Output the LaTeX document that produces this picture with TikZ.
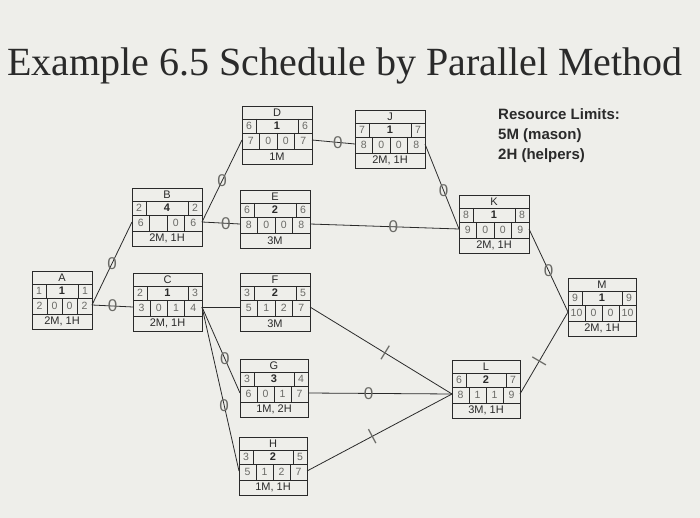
\documentclass[tikz,border=0pt]{standalone}
\usepackage{fontspec}
\setmainfont{Liberation Serif}
\setsansfont{Liberation Sans}
\usetikzlibrary{calc}
\definecolor{paper}{HTML}{EEEEEA}
\definecolor{ink}{HTML}{2A2A2A}
\definecolor{pen}{HTML}{6A6A66}
\tikzset{
  bx/.style={draw=ink,line width=0.9pt},
  tx/.style={font=\sffamily\fontsize{11}{11}\selectfont,text=ink,inner sep=0},
  hw/.style={font=\sffamily\fontsize{10.5}{10.5}\selectfont,text=pen,inner sep=0},
  con/.style={draw=ink,line width=0.8pt},
  mk/.style={font=\sffamily\fontsize{17}{17}\selectfont,text=pen,inner sep=0,fill=none},
}
\newcommand\actbox[9]{%
  \gdef\bX{#2}\gdef\bY{#3}\gdef\bW{#4}%
  \draw[bx] (#2,#3) rectangle ++(#4,58);
  \node[inner sep=0,minimum width=#4pt,minimum height=58pt,anchor=north west] (#1) at (#2,#3) {};
  \coordinate (#1-in) at (#2,#3+34);
  \coordinate (#1-out) at (#2+#4,#3+34);
  \draw[bx] (#2,#3+13) -- ++(#4,0) (#2,#3+27) -- ++(#4,0) (#2,#3+43) -- ++(#4,0);
  \draw[bx] (#2+14,#3+13) -- ++(0,14) (#2+#4-14,#3+13) -- ++(0,14);
  \draw[bx] (#2+#4/4,#3+27) -- ++(0,16) (#2+#4/2,#3+27) -- ++(0,16) (#2+3*#4/4,#3+27) -- ++(0,16);
  \node[tx] (#1-t) at (#2+#4/2,#3+6.5) {#5};
  \node[hw] (#1-es) at (#2+7,#3+20) {#6};
  \node[tx,font=\sffamily\bfseries\fontsize{11}{11}\selectfont] (#1-d) at (#2+#4/2,#3+20) {#7};
  \node[hw] (#1-ef) at (#2+#4-7,#3+20) {#8};
  \node[tx] (#1-r) at (#2+#4/2,#3+50.5) {#9};
}
\newcommand\lastrow[5]{%
  \node[hw] (#1-ls) at (\bX+\bW/8,\bY+35) {#2};
  \node[hw] (#1-a) at (\bX+3*\bW/8,\bY+35) {#3};
  \node[hw] (#1-b) at (\bX+5*\bW/8,\bY+35) {#4};
  \node[hw] (#1-lf) at (\bX+7*\bW/8,\bY+35) {#5};
}
\begin{document}
\begin{tikzpicture}[x=1pt,y=-1pt]
\fill[paper] (0,0) rectangle (700,518);
\useasboundingbox (0,0) rectangle (700,518);
\node[anchor=west,inner sep=0,text=ink,font=\fontsize{40}{40}\selectfont] (title) at (7,66) {Example 6.5 Schedule by Parallel Method};
\node[anchor=north west,align=left,inner sep=0,text=ink,font=\sffamily\bfseries\fontsize{15}{20}\selectfont] (lim) at (498,108) {Resource Limits:\\5M (mason)\\2H (helpers)};

\actbox{A}{32}{271}{60}{A}{1}{1}{1}{2M, 1H}\lastrow{A}{2}{0}{0}{2}
\actbox{B}{132}{188}{70}{B}{2}{4}{2}{2M, 1H}\lastrow{B}{6}{}{0}{6}
\actbox{C}{133}{273}{69}{C}{2}{1}{3}{2M, 1H}\lastrow{C}{3}{0}{1}{4}
\actbox{D}{242}{106}{70}{D}{6}{1}{6}{1M}\lastrow{D}{7}{0}{0}{7}
\actbox{E}{240}{190}{70}{E}{6}{2}{6}{3M}\lastrow{E}{8}{0}{0}{8}
\actbox{F}{240}{273}{70}{F}{3}{2}{5}{3M}\lastrow{F}{5}{1}{2}{7}
\actbox{G}{240}{359}{68}{G}{3}{3}{4}{1M, 2H}\lastrow{G}{6}{0}{1}{7}
\actbox{H}{239}{437}{68}{H}{3}{2}{5}{1M, 1H}\lastrow{H}{5}{1}{2}{7}
\actbox{J}{355}{110}{70}{J}{7}{1}{7}{2M, 1H}\lastrow{J}{8}{0}{0}{8}
\actbox{K}{459}{195}{70}{K}{8}{1}{8}{2M, 1H}\lastrow{K}{9}{0}{0}{9}
\actbox{L}{452}{360}{68}{L}{6}{2}{7}{3M, 1H}\lastrow{L}{8}{1}{1}{9}
\actbox{M}{568}{278}{68}{M}{9}{1}{9}{2M, 1H}\lastrow{M}{10}{0}{0}{10}

\draw[con] (A-out) -- node[mk,pos=.5]{0} (B-in);
\draw[con] (A-out) -- node[mk,pos=.5]{0} (C-in);
\draw[con] (B-out) -- node[mk,pos=.5]{0} (D-in);
\draw[con] (B-out) -- node[mk,pos=.63]{0} (E-in);
\draw[con] (C-out) -- (F-in);
\draw[con] (C-out) -- node[mk,pos=.6]{0} (G-in);
\draw[con] (C-out) -- node[mk,pos=.6]{0} (H-in);
\draw[con] (D-out) -- node[mk,pos=.6]{0} (J-in);
\draw[con] (E-out) -- node[mk,pos=.56]{0} (K-in);
\draw[con] (J-out) -- node[mk,pos=.55]{0} (K-in);
\draw[con] (F-out) -- node[mk,pos=.53,sloped]{|} (L-in);
\draw[con] (G-out) -- node[mk,pos=.42]{0} (L-in);
\draw[con] (H-out) -- node[mk,pos=.45,sloped]{|} (L-in);
\draw[con] (K-out) -- node[mk,pos=.5]{0} (M-in);
\draw[con] (L-out) -- node[mk,pos=.4,sloped]{|} (M-in);
\end{tikzpicture}
\end{document}
